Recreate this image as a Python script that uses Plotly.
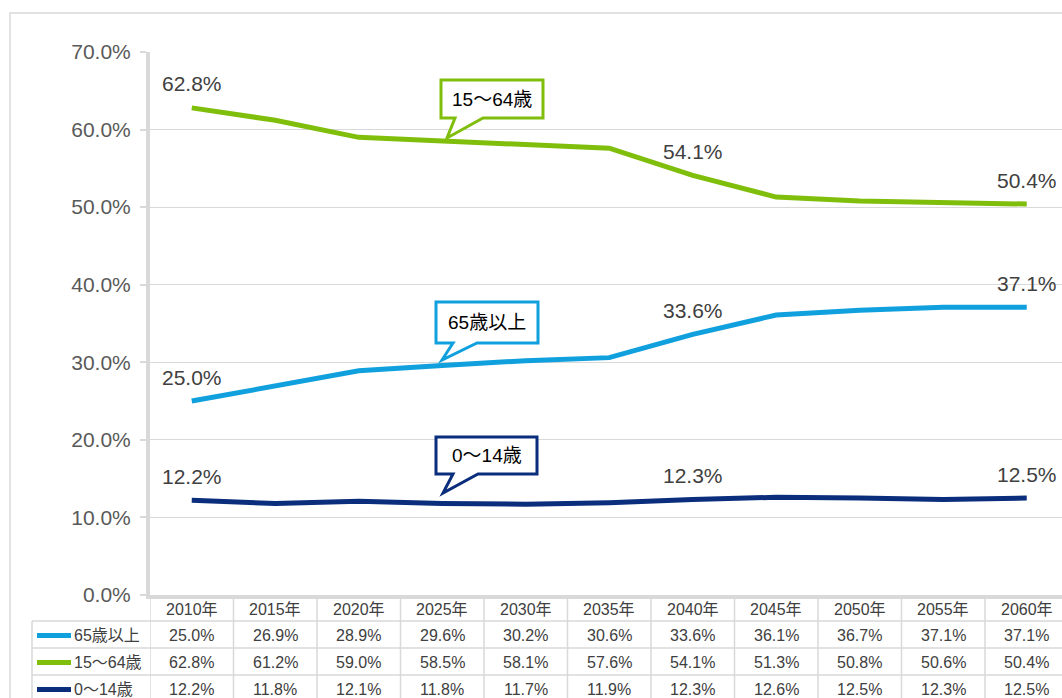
import plotly.graph_objects as go

years = ["2010年", "2015年", "2020年", "2025年", "2030年", "2035年",
         "2040年", "2045年", "2050年", "2055年", "2060年"]
series_names = ["65歳以上", "15～64歳", "0～14歳"]
v65 = [25.0, 26.9, 28.9, 29.6, 30.2, 30.6, 33.6, 36.1, 36.7, 37.1, 37.1]
v15 = [62.8, 61.2, 59.0, 58.5, 58.1, 57.6, 54.1, 51.3, 50.8, 50.6, 50.4]
v0 = [12.2, 11.8, 12.1, 11.8, 11.7, 11.9, 12.3, 12.6, 12.5, 12.3, 12.5]
label_idx = [0, 6, 10]
colors = ["#10A0DE", "#80BE0C", "#0A2D7C"]
yticks = [0.0, 0.1, 0.2, 0.3, 0.4, 0.5, 0.6, 0.7]

W, H = 1062, 698
L, R, T, B = 150, 0, 52, 103
PW, PH = W - L - R, H - T - B
COL = 83.5

def px(x):
    return (x - L) / PW

def py(y):
    return (H - B - y) / PH

FONT = "Liberation Sans, Arial, Noto Sans CJK JP, sans-serif"
TXT = "#404040"
GRID = "#D9D9D9"

fig = go.Figure()
xs = list(range(len(years)))
all_vals = [v65, v15, v0]
for name, vals, c in zip(series_names, all_vals, colors):
    fig.add_trace(go.Scatter(
        x=xs, y=[v / 100 for v in vals], mode="lines", name=name,
        line=dict(color=c, width=5), showlegend=False, hoverinfo="skip"))

annotations = []
# data labels
for vals in all_vals:
    for i in label_idx:
        annotations.append(dict(
            x=i, y=vals[i] / 100, xref="x", yref="y", text=f"{vals[i]:.1f}%",
            showarrow=False, yshift=24, yanchor="middle",
            font=dict(size=21, color=TXT, family=FONT)))

shapes = []
# outer border
shapes.append(dict(type="rect", xref="paper", yref="paper",
                   x0=px(10), x1=px(1080), y0=py(720), y1=py(13),
                   line=dict(color="#D9D9D9", width=1.5), layer="below"))

# data table
ROW_TOP = 597
ROW_H = 27
row_lines = [ROW_TOP + ROW_H * (k + 1) - 3 for k in range(4)]
header_mid = (ROW_TOP + row_lines[0]) / 2
for yl in row_lines[:3]:
    shapes.append(dict(type="line", xref="paper", yref="paper",
                       x0=px(32), x1=px(1080), y0=py(yl), y1=py(yl),
                       line=dict(color=GRID, width=1.5)))
shapes.append(dict(type="line", xref="paper", yref="paper",
                   x0=px(32), x1=px(32), y0=py(row_lines[0]), y1=py(720),
                   line=dict(color=GRID, width=1.5)))
for k in range(len(years) + 1):
    shapes.append(dict(type="line", xref="x", yref="paper",
                       x0=k - 0.5, x1=k - 0.5, y0=py(ROW_TOP), y1=py(720),
                       line=dict(color=GRID, width=1.5)))
for i, yr in enumerate(years):
    annotations.append(dict(x=i, y=py(header_mid), xref="x", yref="paper",
                            text=yr, showarrow=False, yanchor="middle",
                            font=dict(size=16, color=TXT, family=FONT)))
for r, (name, vals, c) in enumerate(zip(series_names, all_vals, colors)):
    ymid = (row_lines[r] + row_lines[r + 1]) / 2 + 1
    shapes.append(dict(type="line", xref="paper", yref="paper",
                       x0=px(37), x1=px(71), y0=py(ymid), y1=py(ymid),
                       line=dict(color=c, width=5)))
    annotations.append(dict(x=px(72), y=py(ymid), xref="paper", yref="paper",
                            text=name, showarrow=False, xanchor="left",
                            yanchor="middle",
                            font=dict(size=16, color=TXT, family=FONT)))
    for i, v in enumerate(vals):
        annotations.append(dict(x=i, y=py(ymid), xref="x", yref="paper",
                                text=f"{v:.1f}%", showarrow=False,
                                yanchor="middle",
                                font=dict(size=16, color=TXT, family=FONT)))

# callouts (box + tail), pixel geometry
callouts = [
    (series_names[1], colors[1], (441, 543, 80, 118), (455, 483), (447, 138)),
    (series_names[0], colors[0], (436, 538, 302, 343), (453, 477), (442, 360)),
    (series_names[2], colors[2], (436, 537, 437, 474), (453, 478), (443, 493)),
]
for name, c, (x0, x1, y0, y1), (b0, b1), (tx, ty) in callouts:
    pts = [(x0, y0), (x1, y0), (x1, y1), (b1, y1), (tx, ty), (b0, y1), (x0, y1)]
    path = "M " + " L ".join(f"{px(a):.5f},{py(b):.5f}" for a, b in pts) + " Z"
    shapes.append(dict(type="path", xref="paper", yref="paper", path=path,
                       fillcolor="white", line=dict(color=c, width=3),
                       layer="above"))
    annotations.append(dict(x=px((x0 + x1) / 2), y=py((y0 + y1) / 2),
                            xref="paper", yref="paper", text=name,
                            showarrow=False, xanchor="center", yanchor="middle",
                            font=dict(size=19, color="#000000", family=FONT)))

fig.update_layout(
    width=W, height=H,
    margin=dict(l=L, r=R, t=T, b=B, pad=0),
    paper_bgcolor="white", plot_bgcolor="white",
    font=dict(family=FONT, color=TXT),
    xaxis=dict(range=[-0.5, -0.5 + PW / COL], showgrid=False, zeroline=False,
               showticklabels=False, ticks="", showline=True,
               linecolor=GRID, linewidth=4, fixedrange=True),
    yaxis=dict(range=[0, 0.7], tickvals=yticks, tickformat=".1%",
               showgrid=True, gridcolor=GRID, gridwidth=1, zeroline=False,
               showline=True, linecolor=GRID, linewidth=4,
               ticks="outside", ticklen=6, tickwidth=2, tickcolor=GRID,
               ticklabelstandoff=5,
               tickfont=dict(size=21, color="#595959", family=FONT),
               fixedrange=True),
    shapes=shapes, annotations=annotations,
)

fig.write_html("out.html", config={"displayModeBar": False})
